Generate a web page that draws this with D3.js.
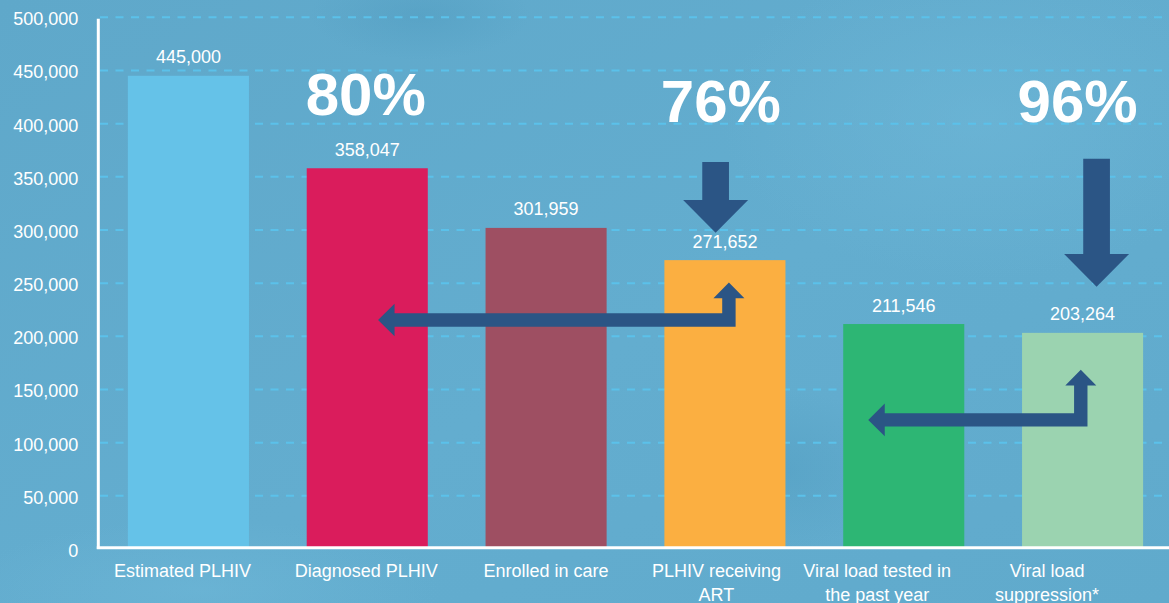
<!DOCTYPE html>
<html>
<head>
<meta charset="utf-8">
<script src="https://cdn.jsdelivr.net/npm/d3@7"></script>
<style>
  html, body { margin: 0; padding: 0; background: #62abcd; overflow: hidden; }
  svg { display: block; }
  text { font-family: "Liberation Sans", Arial, Helvetica, sans-serif; fill: #ffffff; }
</style>
</head>
<body>
<svg id="chart" width="1169" height="603"></svg>
<script>
// HIV care cascade
const categories = [
  "Estimated PLHIV",
  "Diagnosed PLHIV",
  "Enrolled in care",
  "PLHIV receiving ART",
  "Viral load tested in the past year",
  "Viral load suppression*"
];
const values = [445000, 358047, 301959, 271652, 211546, 203264];
const barColors = ["#65c2e8", "#da1c5c", "#9e4f62", "#fbaf41", "#2db674", "#9bd3b0"];
const yTicks = [0, 50000, 100000, 150000, 200000, 250000, 300000, 350000, 400000, 450000, 500000];

// Headline percentages and the bar each one sits over (baseline level in people)
const percentLabels = ["80%", "76%", "96%"];
const percentCategories = ["Diagnosed PLHIV", "PLHIV receiving ART", "Viral load suppression*"];
const percentLevels = [408000, 401800, 401800];

// Straight down arrows: start and tip level (people)
const downArrowCategories = ["PLHIV receiving ART", "Viral load suppression*"];
const downArrowTops = [364000, 367000];
const downArrowTips = [297500, 246700];

// Elbow arrows: rise out of one bar, run left into an earlier bar
const elbowFrom = ["PLHIV receiving ART", "Viral load suppression*"];
const elbowTo = ["Diagnosed PLHIV", "Viral load tested in the past year"];
const elbowLevels = [215400, 121400];
const elbowTips = [250500, 168500];

// ---- layout ----
const W = 1169, H = 603;
const svg = d3.select("#chart");

const x = d3.scaleBand().domain(categories).range([99, 1172]).paddingInner(0.323).paddingOuter(0.1615);
const y = d3.scaleLinear().domain([0, 500000]).range([549, 17.3]);
const cx = c => x(c) + x.bandwidth() / 2;

// label nudges (px) and arrow offsets (px) relative to band centres
const labelShift = [-6, -1, 0, -8.5, -26.5, -35.5];
const percentShift = [-1.5, -4, -5];
const downShift = [-9.3, 14];
const elbowRiseShift = [4, -1.8];
const elbowTipShift = [10.8, -35.5];

// ---- background ----
const defs = svg.append("defs");
const bg = defs.append("linearGradient").attr("id", "bg").attr("x1", 0).attr("y1", 0).attr("x2", 1).attr("y2", 1);
bg.append("stop").attr("offset", "0%").attr("stop-color", "#5fa8ca");
bg.append("stop").attr("offset", "55%").attr("stop-color", "#63adcf");
bg.append("stop").attr("offset", "100%").attr("stop-color", "#60aacc");
const glow = defs.append("radialGradient").attr("id", "glow");
glow.append("stop").attr("offset", "0%").attr("stop-color", "#6fb8d8").attr("stop-opacity", 0.55);
glow.append("stop").attr("offset", "100%").attr("stop-color", "#6fb8d8").attr("stop-opacity", 0);
const shade = defs.append("radialGradient").attr("id", "shade");
shade.append("stop").attr("offset", "0%").attr("stop-color", "#4f9bbf").attr("stop-opacity", 0.45);
shade.append("stop").attr("offset", "100%").attr("stop-color", "#4f9bbf").attr("stop-opacity", 0);

svg.append("rect").attr("width", W).attr("height", H).attr("fill", "url(#bg)");
svg.append("ellipse").attr("cx", 980).attr("cy", 120).attr("rx", 260).attr("ry", 160).attr("fill", "url(#glow)");
svg.append("ellipse").attr("cx", 200).attr("cy", 590).attr("rx", 240).attr("ry", 70).attr("fill", "url(#glow)");
svg.append("ellipse").attr("cx", 420).attr("cy", 15).attr("rx", 110).attr("ry", 45).attr("fill", "url(#shade)");
svg.append("ellipse").attr("cx", 780).attr("cy", 470).attr("rx", 120).attr("ry", 80).attr("fill", "url(#shade)");

// ---- gridlines ----
svg.append("g")
  .selectAll("line")
  .data(yTicks.filter(d => d > 0))
  .join("line")
  .attr("x1", 100).attr("x2", W)
  .attr("y1", d => y(d)).attr("y2", d => y(d))
  .attr("stroke", "#5bc1ea")
  .attr("stroke-width", 2)
  .attr("stroke-dasharray", "8,7.5");

// ---- bars ----
svg.append("g")
  .selectAll("rect")
  .data(categories)
  .join("rect")
  .attr("x", d => x(d))
  .attr("width", x.bandwidth())
  .attr("y", (d, i) => y(values[i]))
  .attr("height", (d, i) => y(0) - y(values[i]))
  .attr("fill", (d, i) => barColors[i]);

// ---- value labels ----
svg.append("g")
  .selectAll("text")
  .data(categories)
  .join("text")
  .attr("x", d => cx(d))
  .attr("y", (d, i) => y(values[i]) - 12.5)
  .attr("text-anchor", "middle")
  .attr("font-size", 18)
  .text((d, i) => d3.format(",")(values[i]));

// ---- axes ----
const yAxis = svg.append("g")
  .attr("transform", "translate(98.3,0)")
  .call(d3.axisLeft(y).tickValues(yTicks).tickFormat(d3.format(",")).tickSize(0).tickPadding(20));
yAxis.select(".domain").remove();
yAxis.selectAll("text")
  .attr("font-size", 18)
  .attr("font-family", "Liberation Sans, Arial, sans-serif")
  .attr("fill", "#ffffff")
  .attr("dy", 7.5);

svg.append("line")
  .attr("x1", 98.3).attr("x2", 98.3)
  .attr("y1", y(500000) + 1.5).attr("y2", y(0))
  .attr("stroke", "#ffffff").attr("stroke-width", 3);
svg.append("line")
  .attr("x1", 96.8).attr("x2", W)
  .attr("y1", y(0) - 1.3).attr("y2", y(0) - 1.3)
  .attr("stroke", "#ffffff").attr("stroke-width", 3);

// ---- category labels (wrapped) ----
const catLabels = svg.append("g")
  .selectAll("text")
  .data(categories)
  .join("text")
  .attr("text-anchor", "middle")
  .attr("font-size", 18)
  .attr("x", (d, i) => cx(d) + labelShift[i])
  .attr("y", 576.7);

catLabels.each(function (d) {
  const t = d3.select(this);
  const words = d.split(" ");
  const maxW = 155;
  let line = [];
  let lineNo = 0;
  let tspan = t.append("tspan").attr("x", t.attr("x")).attr("dy", 0);
  words.forEach(w => {
    line.push(w);
    tspan.text(line.join(" "));
    if (tspan.node().getComputedTextLength() > maxW && line.length > 1) {
      line.pop();
      tspan.text(line.join(" "));
      line = [w];
      lineNo++;
      tspan = t.append("tspan").attr("x", t.attr("x")).attr("dy", 24.3).text(w);
    }
  });
});

// ---- headline percentages ----
svg.append("g")
  .selectAll("text")
  .data(percentLabels)
  .join("text")
  .attr("x", (d, i) => cx(percentCategories[i]) + percentShift[i])
  .attr("y", (d, i) => y(percentLevels[i]))
  .attr("text-anchor", "middle")
  .attr("font-size", 60)
  .attr("font-weight", "bold")
  .text(d => d);

// ---- arrows ----
const arrowColor = "#2b5585";

function downArrowPath(xc, yTop, yTip) {
  const sw = 13.35, hw = 32.5, hl = 32.7;
  return `M${xc - sw},${yTop} H${xc + sw} V${yTip - hl} H${xc + hw} L${xc},${yTip} L${xc - hw},${yTip - hl} H${xc - sw} Z`;
}

function elbowArrowPath(xl, yh, vx, yt) {
  const t = 6.7, hl = 16.5, hh = 16.3, vhl = 15.6, vhw = 15.5;
  return `M${xl},${yh} L${xl + hl},${yh - hh} V${yh - t} H${vx - t} V${yt + vhl} H${vx - vhw} L${vx},${yt} ` +
         `L${vx + vhw},${yt + vhl} H${vx + t} V${yh + t} H${xl + hl} V${yh + hh} Z`;
}

svg.append("g")
  .selectAll("path")
  .data(downArrowCategories)
  .join("path")
  .attr("d", (d, i) => downArrowPath(cx(d) + downShift[i], y(downArrowTops[i]), y(downArrowTips[i])))
  .attr("fill", arrowColor);

svg.append("g")
  .selectAll("path")
  .data(elbowFrom)
  .join("path")
  .attr("d", (d, i) => elbowArrowPath(
    cx(elbowTo[i]) + elbowTipShift[i],
    y(elbowLevels[i]),
    cx(d) + elbowRiseShift[i],
    y(elbowTips[i])))
  .attr("fill", arrowColor);
</script>
</body>
</html>
